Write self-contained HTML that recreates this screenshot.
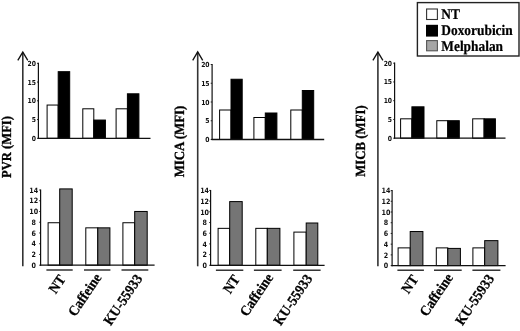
<!DOCTYPE html>
<html lang="en"><head><meta charset="utf-8"><title>Figure</title>
<style>
html,body{margin:0;padding:0;background:#fff;}
body{width:520px;height:331px;overflow:hidden;}
svg{display:block;will-change:transform;}
text{text-rendering:geometricPrecision;}
.tk{font-family:"DejaVu Sans","Liberation Sans",sans-serif;font-weight:bold;fill:#111;}
.ttl{font-family:"Liberation Serif",serif;font-weight:bold;fill:#000;stroke:#000;stroke-width:0.3;}
.lab{font-family:"Liberation Serif",serif;font-weight:bold;font-size:13.3px;fill:#000;stroke:#000;stroke-width:0.25;}
.lg{font-family:"Liberation Serif",serif;font-weight:bold;font-size:13.4px;fill:#000;stroke:#000;stroke-width:0.2;}
</style></head><body>
<svg width="520" height="331" viewBox="0 0 520 331">
<rect width="520" height="331" fill="#fff"/>
<line x1="22.80" y1="52.60" x2="22.80" y2="266.30" stroke="#333" stroke-width="1.6"/>
<polyline points="17.80,60.4 22.80,52.1 27.80,60.4" fill="none" stroke="#111" stroke-width="1.3" stroke-linejoin="miter"/>
<text class="ttl" font-size="12.6" transform="translate(11.40,147.00) rotate(-90) scale(1,1.09)" text-anchor="middle">PVR (MFI)</text>
<rect x="47.10" y="105.05" width="11.10" height="33.25" fill="#fff" stroke="#000" stroke-width="1.0"/>
<rect x="58.20" y="71.68" width="11.50" height="66.62" fill="#000" stroke="#000" stroke-width="1.0"/>
<rect x="82.80" y="108.80" width="11.00" height="29.50" fill="#fff" stroke="#000" stroke-width="1.0"/>
<rect x="93.80" y="120.05" width="11.60" height="18.25" fill="#000" stroke="#000" stroke-width="1.0"/>
<rect x="116.10" y="108.80" width="11.30" height="29.50" fill="#fff" stroke="#000" stroke-width="1.0"/>
<rect x="127.40" y="93.80" width="11.50" height="44.50" fill="#000" stroke="#000" stroke-width="1.0"/>
<line x1="38.40" y1="62.80" x2="38.40" y2="138.90" stroke="#111" stroke-width="1.2"/>
<line x1="37.90" y1="138.30" x2="150.50" y2="138.30" stroke="#111" stroke-width="1.3"/>
<line x1="37.00" y1="138.30" x2="38.40" y2="138.30" stroke="#111" stroke-width="0.9"/>
<text transform="translate(35.90,140.80) scale(0.98,1.12)" class="tk" font-size="6.2" text-anchor="end">0</text>
<line x1="37.00" y1="119.55" x2="38.40" y2="119.55" stroke="#111" stroke-width="0.9"/>
<text transform="translate(35.90,122.05) scale(0.98,1.12)" class="tk" font-size="6.2" text-anchor="end">5</text>
<line x1="37.00" y1="100.80" x2="38.40" y2="100.80" stroke="#111" stroke-width="0.9"/>
<text transform="translate(35.90,103.30) scale(0.98,1.12)" class="tk" font-size="6.2" text-anchor="end">10</text>
<line x1="37.00" y1="82.05" x2="38.40" y2="82.05" stroke="#111" stroke-width="0.9"/>
<text transform="translate(35.90,84.55) scale(0.98,1.12)" class="tk" font-size="6.2" text-anchor="end">15</text>
<line x1="37.00" y1="63.30" x2="38.40" y2="63.30" stroke="#111" stroke-width="0.9"/>
<text transform="translate(35.90,65.80) scale(0.98,1.12)" class="tk" font-size="6.2" text-anchor="end">20</text>
<rect x="48.10" y="222.74" width="11.60" height="42.46" fill="#fff" stroke="#000" stroke-width="1.0"/>
<rect x="59.70" y="188.91" width="12.50" height="76.29" fill="#757575" stroke="#000" stroke-width="1.0"/>
<rect x="85.80" y="227.84" width="12.00" height="37.36" fill="#fff" stroke="#000" stroke-width="1.0"/>
<rect x="97.80" y="227.84" width="12.10" height="37.36" fill="#757575" stroke="#000" stroke-width="1.0"/>
<rect x="122.90" y="222.74" width="11.80" height="42.46" fill="#fff" stroke="#000" stroke-width="1.0"/>
<rect x="134.70" y="211.46" width="12.50" height="53.74" fill="#757575" stroke="#000" stroke-width="1.0"/>
<line x1="40.60" y1="189.50" x2="40.60" y2="265.80" stroke="#111" stroke-width="1.2"/>
<line x1="40.10" y1="265.20" x2="154.60" y2="265.20" stroke="#111" stroke-width="1.3"/>
<line x1="39.20" y1="265.20" x2="40.60" y2="265.20" stroke="#111" stroke-width="0.9"/>
<text transform="translate(33.80,267.90) scale(1.03,1.18)" class="tk" font-size="6.2" text-anchor="middle">0</text>
<line x1="39.20" y1="254.46" x2="40.60" y2="254.46" stroke="#111" stroke-width="0.9"/>
<text transform="translate(33.80,257.16) scale(1.03,1.18)" class="tk" font-size="6.2" text-anchor="middle">2</text>
<line x1="39.20" y1="243.72" x2="40.60" y2="243.72" stroke="#111" stroke-width="0.9"/>
<text transform="translate(33.80,246.42) scale(1.03,1.18)" class="tk" font-size="6.2" text-anchor="middle">4</text>
<line x1="39.20" y1="232.98" x2="40.60" y2="232.98" stroke="#111" stroke-width="0.9"/>
<text transform="translate(33.80,235.68) scale(1.03,1.18)" class="tk" font-size="6.2" text-anchor="middle">6</text>
<line x1="39.20" y1="222.24" x2="40.60" y2="222.24" stroke="#111" stroke-width="0.9"/>
<text transform="translate(33.80,224.94) scale(1.03,1.18)" class="tk" font-size="6.2" text-anchor="middle">8</text>
<line x1="39.20" y1="211.50" x2="40.60" y2="211.50" stroke="#111" stroke-width="0.9"/>
<text transform="translate(33.80,214.20) scale(1.03,1.18)" class="tk" font-size="6.2" text-anchor="middle">10</text>
<line x1="39.20" y1="200.76" x2="40.60" y2="200.76" stroke="#111" stroke-width="0.9"/>
<text transform="translate(33.80,203.46) scale(1.03,1.18)" class="tk" font-size="6.2" text-anchor="middle">12</text>
<line x1="39.20" y1="190.02" x2="40.60" y2="190.02" stroke="#111" stroke-width="0.9"/>
<text transform="translate(33.80,192.72) scale(1.03,1.18)" class="tk" font-size="6.2" text-anchor="middle">14</text>
<line x1="46.40" y1="270.00" x2="72.70" y2="270.00" stroke="#111" stroke-width="1.3"/>
<line x1="84.00" y1="270.00" x2="110.40" y2="270.00" stroke="#111" stroke-width="1.3"/>
<line x1="121.50" y1="270.00" x2="148.30" y2="270.00" stroke="#111" stroke-width="1.3"/>
<text class="lab" transform="translate(66.20,279.20) rotate(-56) scale(1,1.08)" text-anchor="end">NT</text>
<text class="lab" transform="translate(102.00,277.50) rotate(-56) scale(1,1.08)" text-anchor="end">Caffeine</text>
<text class="lab" transform="translate(143.00,278.50) rotate(-56) scale(1,1.08)" text-anchor="end">KU-55933</text>
<line x1="197.70" y1="52.30" x2="197.70" y2="266.30" stroke="#333" stroke-width="1.6"/>
<polyline points="192.70,60.4 197.70,51.8 202.70,60.4" fill="none" stroke="#111" stroke-width="1.3" stroke-linejoin="miter"/>
<text class="ttl" font-size="12.85" transform="translate(184.40,141.50) rotate(-90) scale(1,1.09)" text-anchor="middle">MICA (MFI)</text>
<rect x="219.60" y="110.00" width="11.40" height="29.50" fill="#fff" stroke="#000" stroke-width="1.0"/>
<rect x="231.00" y="79.25" width="11.20" height="60.25" fill="#000" stroke="#000" stroke-width="1.0"/>
<rect x="253.90" y="117.50" width="11.40" height="22.00" fill="#fff" stroke="#000" stroke-width="1.0"/>
<rect x="265.30" y="113.00" width="11.60" height="26.50" fill="#000" stroke="#000" stroke-width="1.0"/>
<rect x="290.80" y="110.00" width="11.50" height="29.50" fill="#fff" stroke="#000" stroke-width="1.0"/>
<rect x="302.30" y="90.50" width="11.40" height="49.00" fill="#000" stroke="#000" stroke-width="1.0"/>
<line x1="212.10" y1="64.10" x2="212.10" y2="140.10" stroke="#111" stroke-width="1.2"/>
<line x1="211.60" y1="139.50" x2="324.20" y2="139.50" stroke="#111" stroke-width="1.3"/>
<line x1="210.70" y1="139.50" x2="212.10" y2="139.50" stroke="#111" stroke-width="0.9"/>
<text transform="translate(209.60,142.00) scale(0.98,1.12)" class="tk" font-size="6.2" text-anchor="end">0</text>
<line x1="210.70" y1="120.75" x2="212.10" y2="120.75" stroke="#111" stroke-width="0.9"/>
<text transform="translate(209.60,123.25) scale(0.98,1.12)" class="tk" font-size="6.2" text-anchor="end">5</text>
<line x1="210.70" y1="102.00" x2="212.10" y2="102.00" stroke="#111" stroke-width="0.9"/>
<text transform="translate(209.60,104.50) scale(0.98,1.12)" class="tk" font-size="6.2" text-anchor="end">10</text>
<line x1="210.70" y1="83.25" x2="212.10" y2="83.25" stroke="#111" stroke-width="0.9"/>
<text transform="translate(209.60,85.75) scale(0.98,1.12)" class="tk" font-size="6.2" text-anchor="end">15</text>
<line x1="210.70" y1="64.50" x2="212.10" y2="64.50" stroke="#111" stroke-width="0.9"/>
<text transform="translate(209.60,67.00) scale(0.98,1.12)" class="tk" font-size="6.2" text-anchor="end">20</text>
<rect x="218.10" y="228.35" width="11.60" height="36.95" fill="#fff" stroke="#000" stroke-width="1.0"/>
<rect x="229.70" y="201.60" width="12.50" height="63.70" fill="#757575" stroke="#000" stroke-width="1.0"/>
<rect x="255.80" y="228.35" width="11.50" height="36.95" fill="#fff" stroke="#000" stroke-width="1.0"/>
<rect x="267.30" y="228.35" width="12.60" height="36.95" fill="#757575" stroke="#000" stroke-width="1.0"/>
<rect x="293.90" y="232.10" width="12.30" height="33.20" fill="#fff" stroke="#000" stroke-width="1.0"/>
<rect x="306.20" y="223.00" width="11.60" height="42.30" fill="#757575" stroke="#000" stroke-width="1.0"/>
<line x1="210.60" y1="190.10" x2="210.60" y2="265.90" stroke="#111" stroke-width="1.2"/>
<line x1="210.10" y1="265.30" x2="324.60" y2="265.30" stroke="#111" stroke-width="1.3"/>
<line x1="209.20" y1="265.30" x2="210.60" y2="265.30" stroke="#111" stroke-width="0.9"/>
<text transform="translate(204.60,268.00) scale(1.03,1.18)" class="tk" font-size="6.2" text-anchor="middle">0</text>
<line x1="209.20" y1="254.60" x2="210.60" y2="254.60" stroke="#111" stroke-width="0.9"/>
<text transform="translate(204.60,257.30) scale(1.03,1.18)" class="tk" font-size="6.2" text-anchor="middle">2</text>
<line x1="209.20" y1="243.90" x2="210.60" y2="243.90" stroke="#111" stroke-width="0.9"/>
<text transform="translate(204.60,246.60) scale(1.03,1.18)" class="tk" font-size="6.2" text-anchor="middle">4</text>
<line x1="209.20" y1="233.20" x2="210.60" y2="233.20" stroke="#111" stroke-width="0.9"/>
<text transform="translate(204.60,235.90) scale(1.03,1.18)" class="tk" font-size="6.2" text-anchor="middle">6</text>
<line x1="209.20" y1="222.50" x2="210.60" y2="222.50" stroke="#111" stroke-width="0.9"/>
<text transform="translate(204.60,225.20) scale(1.03,1.18)" class="tk" font-size="6.2" text-anchor="middle">8</text>
<line x1="209.20" y1="211.80" x2="210.60" y2="211.80" stroke="#111" stroke-width="0.9"/>
<text transform="translate(204.60,214.50) scale(1.03,1.18)" class="tk" font-size="6.2" text-anchor="middle">10</text>
<line x1="209.20" y1="201.10" x2="210.60" y2="201.10" stroke="#111" stroke-width="0.9"/>
<text transform="translate(204.60,203.80) scale(1.03,1.18)" class="tk" font-size="6.2" text-anchor="middle">12</text>
<line x1="209.20" y1="190.40" x2="210.60" y2="190.40" stroke="#111" stroke-width="0.9"/>
<text transform="translate(204.60,193.10) scale(1.03,1.18)" class="tk" font-size="6.2" text-anchor="middle">14</text>
<line x1="215.90" y1="270.20" x2="243.30" y2="270.20" stroke="#111" stroke-width="1.3"/>
<line x1="253.90" y1="270.20" x2="281.60" y2="270.20" stroke="#111" stroke-width="1.3"/>
<line x1="293.20" y1="270.20" x2="320.60" y2="270.20" stroke="#111" stroke-width="1.3"/>
<text class="lab" transform="translate(240.50,279.20) rotate(-56) scale(1,1.08)" text-anchor="end">NT</text>
<text class="lab" transform="translate(273.80,277.50) rotate(-56) scale(1,1.08)" text-anchor="end">Caffeine</text>
<text class="lab" transform="translate(313.00,278.50) rotate(-56) scale(1,1.08)" text-anchor="end">KU-55933</text>
<line x1="377.90" y1="52.60" x2="377.90" y2="266.30" stroke="#333" stroke-width="1.6"/>
<polyline points="372.90,60.4 377.90,52.1 382.90,60.4" fill="none" stroke="#111" stroke-width="1.3" stroke-linejoin="miter"/>
<text class="ttl" font-size="12.8" transform="translate(365.10,141.00) rotate(-90) scale(1,1.09)" text-anchor="middle">MICB (MFI)</text>
<rect x="400.60" y="118.82" width="11.30" height="19.38" fill="#fff" stroke="#000" stroke-width="1.0"/>
<rect x="411.90" y="106.82" width="12.10" height="31.38" fill="#000" stroke="#000" stroke-width="1.0"/>
<rect x="436.80" y="120.70" width="11.00" height="17.50" fill="#fff" stroke="#000" stroke-width="1.0"/>
<rect x="447.80" y="120.70" width="11.50" height="17.50" fill="#000" stroke="#000" stroke-width="1.0"/>
<rect x="472.70" y="118.82" width="11.40" height="19.38" fill="#fff" stroke="#000" stroke-width="1.0"/>
<rect x="484.10" y="118.82" width="11.30" height="19.38" fill="#000" stroke="#000" stroke-width="1.0"/>
<line x1="394.60" y1="62.60" x2="394.60" y2="138.80" stroke="#111" stroke-width="1.2"/>
<line x1="394.10" y1="138.20" x2="505.50" y2="138.20" stroke="#111" stroke-width="1.3"/>
<line x1="393.20" y1="138.20" x2="394.60" y2="138.20" stroke="#111" stroke-width="0.9"/>
<text transform="translate(392.10,140.70) scale(0.98,1.12)" class="tk" font-size="6.2" text-anchor="end">0</text>
<line x1="393.20" y1="119.45" x2="394.60" y2="119.45" stroke="#111" stroke-width="0.9"/>
<text transform="translate(392.10,121.95) scale(0.98,1.12)" class="tk" font-size="6.2" text-anchor="end">5</text>
<line x1="393.20" y1="100.70" x2="394.60" y2="100.70" stroke="#111" stroke-width="0.9"/>
<text transform="translate(392.10,103.20) scale(0.98,1.12)" class="tk" font-size="6.2" text-anchor="end">10</text>
<line x1="393.20" y1="81.95" x2="394.60" y2="81.95" stroke="#111" stroke-width="0.9"/>
<text transform="translate(392.10,84.45) scale(0.98,1.12)" class="tk" font-size="6.2" text-anchor="end">15</text>
<line x1="393.20" y1="63.20" x2="394.60" y2="63.20" stroke="#111" stroke-width="0.9"/>
<text transform="translate(392.10,65.70) scale(0.98,1.12)" class="tk" font-size="6.2" text-anchor="end">20</text>
<rect x="398.10" y="247.88" width="12.10" height="17.72" fill="#fff" stroke="#000" stroke-width="1.0"/>
<rect x="410.20" y="231.53" width="12.70" height="34.07" fill="#757575" stroke="#000" stroke-width="1.0"/>
<rect x="436.30" y="247.88" width="11.50" height="17.72" fill="#fff" stroke="#000" stroke-width="1.0"/>
<rect x="447.80" y="248.41" width="12.60" height="17.19" fill="#757575" stroke="#000" stroke-width="1.0"/>
<rect x="472.90" y="247.88" width="11.80" height="17.72" fill="#fff" stroke="#000" stroke-width="1.0"/>
<rect x="484.70" y="240.64" width="13.20" height="24.96" fill="#757575" stroke="#000" stroke-width="1.0"/>
<line x1="392.10" y1="190.10" x2="392.10" y2="266.20" stroke="#111" stroke-width="1.2"/>
<line x1="391.60" y1="265.60" x2="505.60" y2="265.60" stroke="#111" stroke-width="1.3"/>
<line x1="390.70" y1="265.60" x2="392.10" y2="265.60" stroke="#111" stroke-width="0.9"/>
<text transform="translate(385.90,268.30) scale(1.03,1.18)" class="tk" font-size="6.2" text-anchor="middle">0</text>
<line x1="390.70" y1="254.88" x2="392.10" y2="254.88" stroke="#111" stroke-width="0.9"/>
<text transform="translate(385.90,257.58) scale(1.03,1.18)" class="tk" font-size="6.2" text-anchor="middle">2</text>
<line x1="390.70" y1="244.16" x2="392.10" y2="244.16" stroke="#111" stroke-width="0.9"/>
<text transform="translate(385.90,246.86) scale(1.03,1.18)" class="tk" font-size="6.2" text-anchor="middle">4</text>
<line x1="390.70" y1="233.44" x2="392.10" y2="233.44" stroke="#111" stroke-width="0.9"/>
<text transform="translate(385.90,236.14) scale(1.03,1.18)" class="tk" font-size="6.2" text-anchor="middle">6</text>
<line x1="390.70" y1="222.72" x2="392.10" y2="222.72" stroke="#111" stroke-width="0.9"/>
<text transform="translate(385.90,225.42) scale(1.03,1.18)" class="tk" font-size="6.2" text-anchor="middle">8</text>
<line x1="390.70" y1="212.00" x2="392.10" y2="212.00" stroke="#111" stroke-width="0.9"/>
<text transform="translate(385.90,214.70) scale(1.03,1.18)" class="tk" font-size="6.2" text-anchor="middle">10</text>
<line x1="390.70" y1="201.28" x2="392.10" y2="201.28" stroke="#111" stroke-width="0.9"/>
<text transform="translate(385.90,203.98) scale(1.03,1.18)" class="tk" font-size="6.2" text-anchor="middle">12</text>
<line x1="390.70" y1="190.56" x2="392.10" y2="190.56" stroke="#111" stroke-width="0.9"/>
<text transform="translate(385.90,193.26) scale(1.03,1.18)" class="tk" font-size="6.2" text-anchor="middle">14</text>
<line x1="397.40" y1="270.20" x2="423.90" y2="270.20" stroke="#111" stroke-width="1.3"/>
<line x1="434.00" y1="270.20" x2="461.70" y2="270.20" stroke="#111" stroke-width="1.3"/>
<line x1="472.40" y1="270.20" x2="500.40" y2="270.20" stroke="#111" stroke-width="1.3"/>
<text class="lab" transform="translate(418.90,279.20) rotate(-56) scale(1,1.08)" text-anchor="end">NT</text>
<text class="lab" transform="translate(453.60,277.50) rotate(-56) scale(1,1.08)" text-anchor="end">Caffeine</text>
<text class="lab" transform="translate(494.60,278.50) rotate(-56) scale(1,1.08)" text-anchor="end">KU-55933</text>
<rect x="417.4" y="2.6" width="101.6" height="53.4" fill="#fff" stroke="#222" stroke-width="1.4"/>
<rect x="426.6" y="9.0" width="10.8" height="10.5" fill="#fff" stroke="#333" stroke-width="1.1"/>
<rect x="426.6" y="25.4" width="10.8" height="10.6" fill="#000" stroke="#000" stroke-width="1.2"/>
<rect x="426.6" y="40.6" width="10.8" height="10.2" fill="#a6a6a6" stroke="#555" stroke-width="1.1"/>
<text class="lg" transform="translate(441.3,19.1) scale(1,1.1)">NT</text>
<text class="lg" transform="translate(441.3,35.4) scale(1,1.1)">Doxorubicin</text>
<text class="lg" transform="translate(441.3,50.8) scale(1,1.1)">Melphalan</text>
</svg>
</body></html>
